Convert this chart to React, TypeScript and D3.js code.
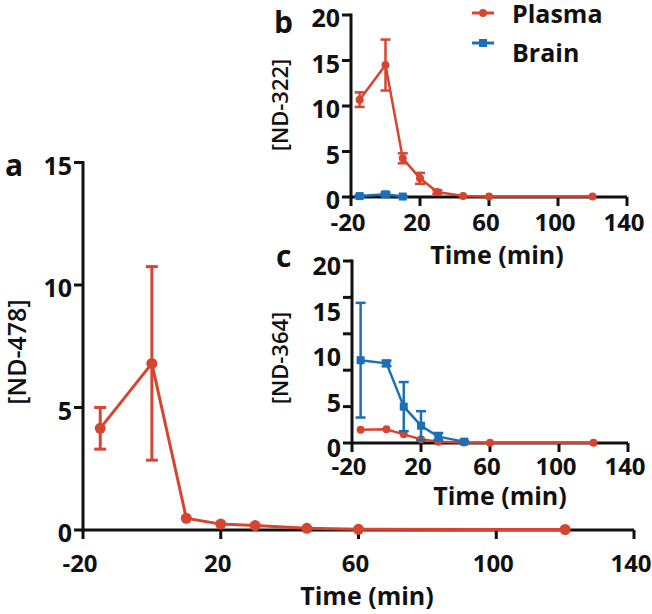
import React from 'react';
import * as d3 from 'd3';

// ---------- data ----------
const TIMES = [-15, 0, 10, 20, 30, 45, 60, 120];
const A_PLASMA = [4.15, 6.8, 0.48, 0.24, 0.18, 0.07, 0.03, 0.02];
const A_PLASMA_ERR = [0.85, 3.95, 0, 0, 0, 0, 0, 0];

const B_PLASMA = [10.7, 14.5, 4.25, 2.05, 0.55, 0.1, 0.05, 0.05];
const B_PLASMA_ERR = [0.8, 2.8, 0.55, 0.6, 0.2, 0, 0, 0];
const B_BRAIN_TIMES = [-15, 0, 10];
const B_BRAIN = [0.1, 0.3, 0.05];
const B_BRAIN_ERR = [0.1, 0.2, 0.05];

const C_PLASMA = [1.45, 1.5, 0.95, 0.4, 0.15, 0.05, 0.03, 0.03];
const C_PLASMA_ERR = [0, 0, 0, 0, 0, 0, 0, 0];
const C_BRAIN_TIMES = [-15, 0, 10, 20, 30, 45];
const C_BRAIN = [9.1, 8.75, 4.0, 1.9, 0.7, 0.15];
const C_BRAIN_ERR = [6.3, 0.3, 2.7, 1.6, 0.4, 0.1];

const X_TICKS = [-20, 20, 60, 100, 140];
const A_Y_TICKS = [0, 5, 10, 15];
const BC_Y_LABELS = [0, 5, 10, 15, 20];
const B_Y_TICK_MARKS = [0, 5, 10, 15, 20];
const C_Y_TICK_MARKS = [0, 4, 8, 12, 16, 20];
const SERIES_NAMES = ['Plasma', 'Brain'];

const RED = '#d6452f';
const BLUE = '#1b6fb6';
const FONT = '"Open Sans", "DejaVu Sans", sans-serif';

type Series = { t: number[]; v: number[]; e: number[]; color: string; shape: 'circle' | 'square' };

type PanelProps = {
  xr: [number, number];
  yr: [number, number];
  yMax: number;
  yTickMarks: number[];
  yTickLabels: number[];
  series: Series[];
  fs: number;
  xfs: number;
  xLabelBase: number;
  titleBase: number;
  titleX: number;
  yLabel: string;
  yLabelX: number;
  yLabelY: number;
  yLabelFs: number;
  r: number;
  cap: number;
  lw: number;
  tickLen: number;
  yLabelDy: number;
};

function Panel(p: PanelProps) {
  const x = d3.scaleLinear().domain([-20, 140]).range(p.xr);
  const y = d3.scaleLinear().domain([0, p.yMax]).range(p.yr);
  return (
    <g>
      {/* axes */}
      <line x1={p.xr[0]} x2={p.xr[1]} y1={p.yr[0]} y2={p.yr[0]} stroke="#111" strokeWidth={3} />
      <line x1={p.xr[0]} x2={p.xr[0]} y1={p.yr[0] + 1.5} y2={p.yr[1] - 1.5} stroke="#111" strokeWidth={3} />
      {X_TICKS.map((t) => (
        <g key={'xt' + t}>
          <line x1={x(t)} x2={x(t)} y1={p.yr[0]} y2={p.yr[0] + p.tickLen} stroke="#111" strokeWidth={3} />
          <text x={x(t) - 3} y={p.xLabelBase} textAnchor="middle" fontSize={p.xfs} fontWeight="bold" fontFamily={FONT} fill="#111">
            {t}
          </text>
        </g>
      ))}
      {p.yTickMarks.map((t) => (
        <line key={'ytm' + t} x1={p.xr[0] - p.tickLen} x2={p.xr[0]} y1={y(t)} y2={y(t)} stroke="#111" strokeWidth={3} />
      ))}
      {p.yTickLabels.map((t) => (
        <text
          key={'ytl' + t}
          x={p.xr[0] - p.tickLen - 2}
          y={y(t) + p.yLabelDy}
          textAnchor="end"
          dominantBaseline="central"
          fontSize={p.fs}
          fontWeight="bold"
          fontFamily={FONT}
          fill="#111"
        >
          {t}
        </text>
      ))}
      <text x={p.titleX} y={p.titleBase} textAnchor="middle" fontSize={p.fs} fontWeight="bold" fontFamily={FONT} fill="#111">
        Time (min)
      </text>
      <text
        transform={`translate(${p.yLabelX},${p.yLabelY}) rotate(-90)`}
        textAnchor="middle"
        fontSize={p.yLabelFs}
        fontWeight="600"
        fontFamily={FONT}
        fill="#111"
      >
        {p.yLabel}
      </text>
      {/* series */}
      {p.series.map((s, si) => {
        const pts = s.t.map((t, i) => [x(t), y(s.v[i])] as [number, number]);
        const path = d3.line()(pts) || '';
        return (
          <g key={'s' + si}>
            {s.t.map((t, i) =>
              s.e[i] > 0 ? (
                <g key={'e' + i} stroke={s.color} strokeWidth={p.lw}>
                  <line x1={x(t)} x2={x(t)} y1={y(s.v[i] + s.e[i])} y2={y(Math.max(0, s.v[i] - s.e[i]))} />
                  <line x1={x(t) - p.cap} x2={x(t) + p.cap} y1={y(s.v[i] + s.e[i])} y2={y(s.v[i] + s.e[i])} />
                  <line x1={x(t) - p.cap} x2={x(t) + p.cap} y1={y(Math.max(0, s.v[i] - s.e[i]))} y2={y(Math.max(0, s.v[i] - s.e[i]))} />
                </g>
              ) : null
            )}
            <path d={path} fill="none" stroke={s.color} strokeWidth={p.lw} strokeLinejoin="round" />
            {pts.map(([px, py], i) =>
              s.shape === 'circle' ? (
                <circle key={'m' + i} cx={px} cy={py} r={p.r} fill={s.color} />
              ) : (
                <rect key={'m' + i} x={px - p.r} y={py - p.r} width={p.r * 2} height={p.r * 2} fill={s.color} />
              )
            )}
          </g>
        );
      })}
    </g>
  );
}

export default function App() {
  const aSeries: Series[] = [{ t: TIMES, v: A_PLASMA, e: A_PLASMA_ERR, color: RED, shape: 'circle' }];
  const bSeries: Series[] = [
    { t: TIMES, v: B_PLASMA, e: B_PLASMA_ERR, color: RED, shape: 'circle' },
    { t: B_BRAIN_TIMES, v: B_BRAIN, e: B_BRAIN_ERR, color: BLUE, shape: 'square' },
  ];
  const cSeries: Series[] = [
    { t: TIMES, v: C_PLASMA, e: C_PLASMA_ERR, color: RED, shape: 'circle' },
    { t: C_BRAIN_TIMES, v: C_BRAIN, e: C_BRAIN_ERR, color: BLUE, shape: 'square' },
  ];
  const legendColors = [RED, BLUE];
  return (
    <svg width={652} height={614} style={{ position: 'absolute', left: 0, top: 0, background: '#fff' }}>
      <rect width={652} height={614} fill="#fff" />
      <Panel
        xr={[83, 634]}
        yr={[530, 162.5]}
        yMax={15}
        yTickMarks={A_Y_TICKS}
        yTickLabels={A_Y_TICKS}
        series={aSeries}
        fs={25}
        xfs={24}
        xLabelBase={572}
        titleBase={605}
        titleX={367}
        yLabel="[ND-478]"
        yLabelX={26}
        yLabelY={352}
        yLabelFs={25}
        r={5.5}
        cap={6}
        lw={3}
        tickLen={9}
        yLabelDy={2}
      />
      <Panel
        xr={[351, 627]}
        yr={[197, 15]}
        yMax={20}
        yTickMarks={B_Y_TICK_MARKS}
        yTickLabels={BC_Y_LABELS}
        series={bSeries}
        fs={25}
        xfs={24}
        xLabelBase={231}
        titleBase={264}
        titleX={497}
        yLabel="[ND-322]"
        yLabelX={288}
        yLabelY={105}
        yLabelFs={22}
        r={4}
        cap={5}
        lw={2.5}
        tickLen={9}
        yLabelDy={2}
      />
      <Panel
        xr={[352, 628]}
        yr={[443, 261]}
        yMax={20}
        yTickMarks={C_Y_TICK_MARKS}
        yTickLabels={BC_Y_LABELS}
        series={cSeries}
        fs={25}
        xfs={24}
        xLabelBase={475}
        titleBase={505}
        titleX={500}
        yLabel="[ND-364]"
        yLabelX={288}
        yLabelY={358}
        yLabelFs={22}
        r={4}
        cap={5}
        lw={2.5}
        tickLen={9}
        yLabelDy={4}
      />
      {/* panel letters */}
      <text x={5} y={176} fontSize={30} fontWeight="bold" fontFamily={FONT} fill="#111">a</text>
      <text x={274} y={33} fontSize={30} fontWeight="bold" fontFamily={FONT} fill="#111">b</text>
      <text x={276} y={267} fontSize={30} fontWeight="bold" fontFamily={FONT} fill="#111">c</text>
      {/* legend */}
      {SERIES_NAMES.map((name, i) => (
        <g key={name}>
          <line x1={472} x2={494} y1={13 + i * 30} y2={13 + i * 30} stroke={legendColors[i]} strokeWidth={3} />
          {i === 0 ? (
            <circle cx={483} cy={13} r={4} fill={legendColors[i]} />
          ) : (
            <rect x={479} y={39} width={8} height={8} fill={legendColors[i]} />
          )}
          <text x={512} y={23 + i * 39} fontSize={25} fontWeight="bold" fontFamily={FONT} fill="#111">
            {name}
          </text>
        </g>
      ))}
    </svg>
  );
}
